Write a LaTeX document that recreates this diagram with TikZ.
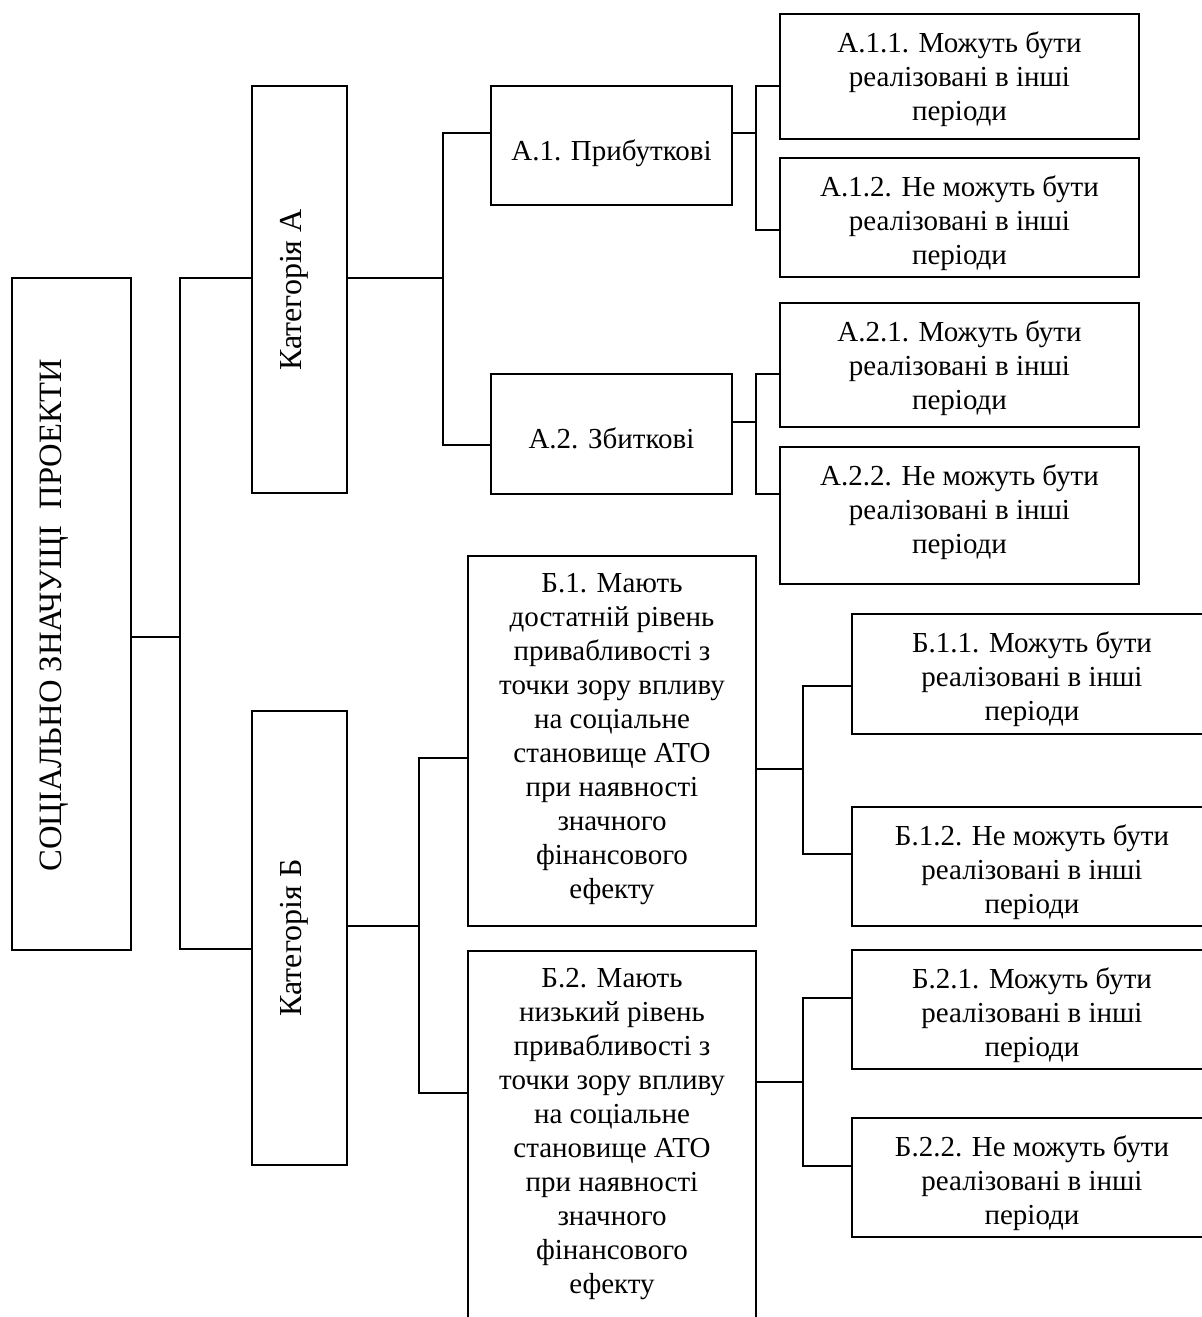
\documentclass[tikz,border=0pt]{standalone}
\usepackage{fontspec}
\setmainfont{Liberation Serif}
\usepackage{tikz}
\tikzstyle{box} = [draw, fill=white, line width=1pt, inner sep=0pt, outer sep=0pt]
\tikzstyle{ttext} = [anchor=north, align=center, inner sep=0pt, yshift=-8.5pt]
\tikzstyle{conn} = [line width=1pt]
\tikzstyle{vtext} = [rotate=90, inner sep=0pt, font=\fontsize{16}{19}\selectfont]

\begin{document}
\begin{tikzpicture}[x=0.5pt, y=-0.5pt, every node/.style={font=\fontsize{14.5}{17}\selectfont}]
    \fill[white] (0,0) rectangle (1202,1317);
    \clip (0,0) rectangle (1202,1317);
    \useasboundingbox (0,0) rectangle (1202,1317);

    \node[box, minimum width=59.5pt, minimum height=336pt] (root) at (71.5,614) {};
    \node[vtext, font=\fontsize{16.3}{19}\selectfont] (rootText) at (54,615) {СОЦІАЛЬНО ЗНАЧУЩІ~~ПРОЕКТИ};

    \node[box, minimum width=47.5pt, minimum height=203.5pt] (katA) at (299.5,289.5) {};
    \node[vtext] (katAText) at (294.5,290) {Категорія А};
    \node[box, minimum width=47.5pt, minimum height=227pt] (katB) at (299.5,938) {};
    \node[vtext] (katBText) at (294.5,938) {Категорія Б};

    \node[box, minimum width=120.5pt, minimum height=59.5pt,
        label={[ttext, yshift=-18pt, name=a1t]north:А.1. Прибуткові}] (a1) at (611.5,145.5) {};
    \node[box, minimum width=120.5pt, minimum height=60pt,
        label={[ttext, yshift=-18pt, name=a2t]north:А.2. Збиткові}] (a2) at (611.5,434) {};

    \node[box, minimum width=179.5pt, minimum height=62.5pt,
        label={[ttext, name=a11t]north:{А.1.1. Можуть бути\\реалізовані в інші\\періоди}}] (a11) at (959.5,76.5) {};
    \node[box, minimum width=179.5pt, minimum height=59.5pt,
        label={[ttext, name=a12t]north:{А.1.2. Не можуть бути\\реалізовані в інші\\періоди}}] (a12) at (959.5,217.5) {};
    \node[box, minimum width=179.5pt, minimum height=62pt,
        label={[ttext, name=a21t]north:{А.2.1. Можуть бути\\реалізовані в інші\\періоди}}] (a21) at (959.5,365) {};
    \node[box, minimum width=179.5pt, minimum height=68.5pt,
        label={[ttext, name=a22t]north:{А.2.2. Не можуть бути\\реалізовані в інші\\періоди}}] (a22) at (959.5,515.5) {};

    \node[box, minimum width=144pt, minimum height=185pt,
        label={[ttext, name=b1t]north:{Б.1. Мають\\достатній рівень\\привабливості з\\точки зору впливу\\на соціальне\\становище АТО\\при наявності\\значного\\фінансового\\ефекту}}] (b1) at (612,741) {};
    \node[box, minimum width=144pt, minimum height=185.5pt,
        label={[ttext, name=b2t]north:{Б.2. Мають\\низький рівень\\привабливості з\\точки зору впливу\\на соціальне\\становище АТО\\при наявності\\значного\\фінансового\\ефекту}}] (b2) at (612,1136.5) {};

    \node[box, minimum width=180pt, minimum height=60pt,
        label={[ttext, name=b11t]north:{Б.1.1. Можуть бути\\реалізовані в інші\\періоди}}] (b11) at (1032,674) {};
    \node[box, minimum width=180pt, minimum height=59.5pt,
        label={[ttext, name=b12t]north:{Б.1.2. Не можуть бути\\реалізовані в інші\\періоди}}] (b12) at (1032,866.5) {};
    \node[box, minimum width=180pt, minimum height=59.5pt,
        label={[ttext, name=b21t]north:{Б.2.1. Можуть бути\\реалізовані в інші\\періоди}}] (b21) at (1032,1009.5) {};
    \node[box, minimum width=180pt, minimum height=59.5pt,
        label={[ttext, name=b22t]north:{Б.2.2. Не можуть бути\\реалізовані в інші\\періоди}}] (b22) at (1032,1177.5) {};

    % branch points
    \coordinate (jr) at (180,637);  \coordinate (jrA) at (180,278);  \coordinate (jrB) at (180,949);
    \coordinate (ja) at (443,278);  \coordinate (ja1) at (443,133);  \coordinate (ja2) at (443,445);
    \coordinate (j1) at (756,133);  \coordinate (j11) at (756,86);   \coordinate (j12) at (756,230);
    \coordinate (j2) at (756,422);  \coordinate (j21) at (756,374);  \coordinate (j22) at (756,494);
    \coordinate (jb) at (419,926);  \coordinate (jb1) at (419,758);  \coordinate (jb2) at (419,1093);
    \coordinate (k1) at (803,769);  \coordinate (k11) at (803,686);  \coordinate (k12) at (803,854);
    \coordinate (k2) at (803,1082); \coordinate (k21) at (803,998);  \coordinate (k22) at (803,1166);

    \draw[conn] (root.east |- jr) -- (jr);
    \draw[conn] (jrA -| katA.west) -- (jrA) -- (jrB) -- (jrB -| katB.west);

    \draw[conn] (katA.east |- ja) -- (ja);
    \draw[conn] (ja1 -| a1.west) -- (ja1) -- (ja2) -- (ja2 -| a2.west);
    \draw[conn] (a1.east |- j1) -- (j1);
    \draw[conn] (j11 -| a11.west) -- (j11) -- (j12) -- (j12 -| a12.west);
    \draw[conn] (a2.east |- j2) -- (j2);
    \draw[conn] (j21 -| a21.west) -- (j21) -- (j22) -- (j22 -| a22.west);

    \draw[conn] (katB.east |- jb) -- (jb);
    \draw[conn] (jb1 -| b1.west) -- (jb1) -- (jb2) -- (jb2 -| b2.west);
    \draw[conn] (b1.east |- k1) -- (k1);
    \draw[conn] (k11 -| b11.west) -- (k11) -- (k12) -- (k12 -| b12.west);
    \draw[conn] (b2.east |- k2) -- (k2);
    \draw[conn] (k21 -| b21.west) -- (k21) -- (k22) -- (k22 -| b22.west);
\end{tikzpicture}
\end{document}
